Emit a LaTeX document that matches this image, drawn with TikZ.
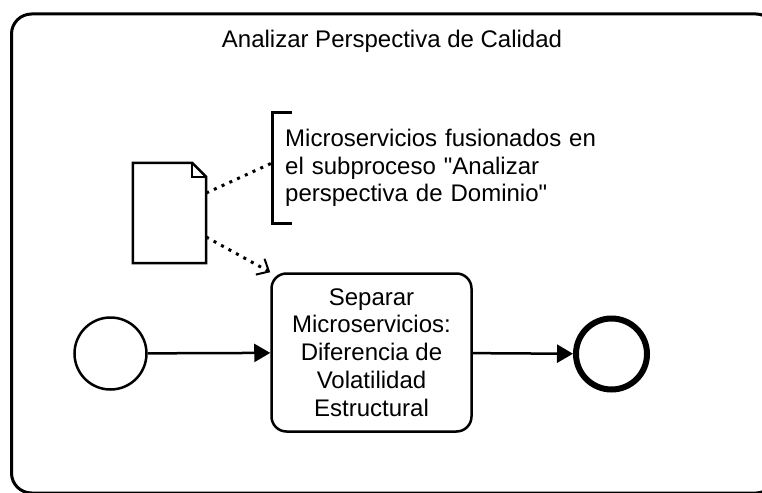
\documentclass[tikz,border=0pt]{standalone}
\usepackage{xcolor}
\usepackage{fontspec}
\setmainfont{Liberation Sans}
\usetikzlibrary{arrows.meta}
\usetikzlibrary{positioning}

\begin{document}
\begin{tikzpicture}[x=1pt, y=-1pt]
\tikzset{EventStyle/.style = {shape=circle, draw, line width=2.5pt, minimum size=72pt, inner sep=0pt}}
\tikzset{EndStyle/.style = {EventStyle, line width=6pt, minimum size=71pt}}
\tikzset{TaskStyle/.style = {shape=rectangle, draw, rounded corners=15pt, line width=2.5pt, minimum width=200pt, minimum height=158pt, align=center, font=\fontsize{24}{27.8}\selectfont}}
\tikzset{FlowStyle/.style = {line width=2.5pt, -{Triangle[length=16pt, width=18pt]}}}
\tikzset{AssocStyle/.style = {line width=3pt, dash pattern=on 3pt off 5.5pt}}
  \useasboundingbox (0,0) rectangle (762,492);
  \begin{scope}
    \clip (0,0) rectangle (762,492);
    \draw[line width=3pt, rounded corners=20pt] (11.5,14) rectangle (776,493);
  \end{scope}
  \node[font=\fontsize{24}{27.8}\selectfont] (title) at (392,41) {Analizar Perspectiva de Calidad};

  % eventos y tarea
  \node[EventStyle] (start) at (110.5,353.5) {};
  \node[TaskStyle] (task) at (371.5,352.5) {Separar\\Microservicios:\\Diferencia de\\Volatilidad\\Estructural};
  \node[EndStyle] (end) at (611.5,354) {};
  \draw[FlowStyle] (start) -- (task);
  \draw[FlowStyle] (task) -- (end);

  % objeto de datos
  \node[minimum width=73pt, minimum height=100pt, inner sep=0pt] (doc) at (169.5,213) {};
  \draw[line width=2.5pt, line join=miter] ([xshift=-14pt]doc.north east) -- (doc.north west) -- (doc.south west)
    -- (doc.south east) -- ([yshift=-14pt]doc.north east) -- cycle;
  \draw[line width=2pt] ([xshift=-14pt]doc.north east) -- ++(0,14) -- ([yshift=-14pt]doc.north east);

  % anotacion
  \node[minimum height=110pt, text width=330pt, inner xsep=13pt, inner ysep=0pt, align=left, anchor=west,
    font=\fontsize{24}{27.6}\selectfont] (note) at (272,168)
    {Microservicios fusionados en\\el subproceso \textquotedbl Analizar\\perspectiva de Dominio\textquotedbl};
  \draw[line width=3pt] ([xshift=20pt]note.north west) -- (note.north west) -- (note.south west) -- ([xshift=20pt]note.south west);

  \draw[AssocStyle] ([yshift=20pt]doc.east) -- ([yshift=5pt]note.west);
  \draw[AssocStyle, -{Straight Barb[length=10pt, width=18pt, line width=2pt]}] ([yshift=-24pt]doc.east) -- (task.north west);
\end{tikzpicture}
\end{document}
